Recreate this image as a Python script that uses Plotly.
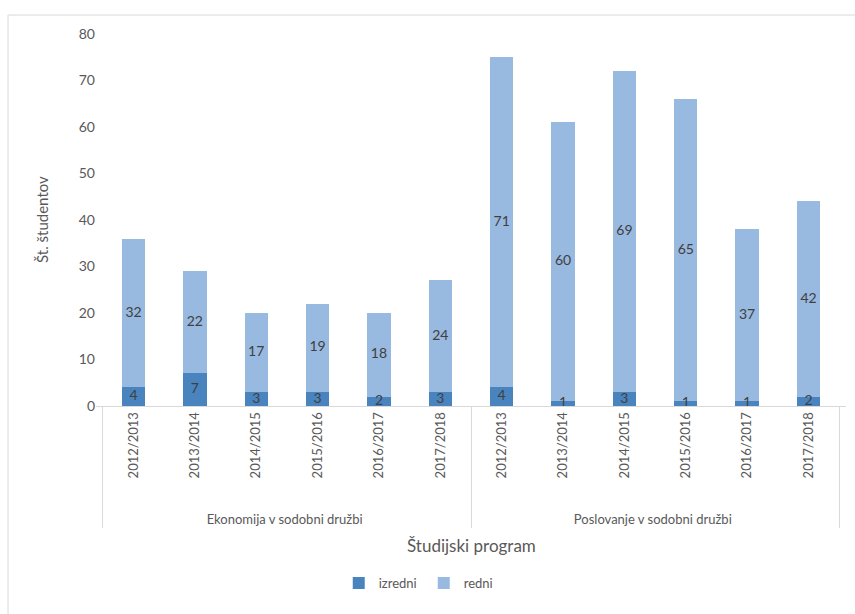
import plotly.graph_objects as go

programs = ["Ekonomija v sodobni družbi"] * 6 + ["Poslovanje v sodobni družbi"] * 6
years = ["2012/2013", "2013/2014", "2014/2015", "2015/2016", "2016/2017", "2017/2018"] * 2
izredni = [4, 7, 3, 3, 2, 3, 4, 1, 3, 1, 1, 2]
redni = [32, 22, 17, 19, 18, 24, 71, 60, 69, 65, 37, 42]

FONT = "Lato"
C_IZ = "#4A84BF"
C_RE = "#98B9E0"
TXT = "#404040"
GRAY = "#595959"

# leading no-break spaces leave room between the rotated year labels and the group labels
PAD = "\u00a0" * 6
year_labels = [PAD + y for y in years]

x = [programs, year_labels]
fig = go.Figure()
fig.add_trace(go.Bar(x=x, y=izredni, name="izredni", marker=dict(color=C_IZ, line=dict(width=0))))
fig.add_trace(go.Bar(x=x, y=redni, name="redni", marker=dict(color=C_RE, line=dict(width=0))))

# data labels at the middle of each segment
mid_iz = [v / 2 for v in izredni]
mid_re = [a + b / 2 for a, b in zip(izredni, redni)]
fig.add_trace(go.Scatter(x=x, y=mid_iz, mode="text", text=[str(v) for v in izredni],
                         textfont=dict(family=FONT, size=14, color=TXT), showlegend=False, hoverinfo="skip"))
fig.add_trace(go.Scatter(x=x, y=mid_re, mode="text", text=[str(v) for v in redni],
                         textfont=dict(family=FONT, size=14, color=TXT), showlegend=False, hoverinfo="skip"))

fig.update_layout(
    width=855, height=614,
    margin=dict(l=96, r=9, t=34, b=208, autoexpand=False),
    paper_bgcolor="white", plot_bgcolor="white",
    barmode="stack", bargap=0.62,
    font=dict(family=FONT, color=GRAY, size=13),
    showlegend=True,
    legend=dict(orientation="h", x=0.437, xanchor="center", y=-0.476, yanchor="middle",
                traceorder="normal", font=dict(family=FONT, size=13, color=GRAY),
                itemwidth=30, entrywidth=40),
    xaxis=dict(type="multicategory", tickangle=-90, showline=True, linecolor="#D9D9D9",
               linewidth=1, showgrid=False, ticks="", showdividers=True, automargin=False,
               dividercolor="#D9D9D9", dividerwidth=1,
               tickfont=dict(family=FONT, size=13, color=GRAY)),
    yaxis=dict(range=[0, 80], dtick=10, showgrid=False, zeroline=False, showline=False,
               ticks="", automargin=False, tickfont=dict(family=FONT, size=14, color=GRAY)),
    annotations=[
        dict(text="Študijski program", xref="paper", yref="paper", x=0.5, y=-0.374,
             showarrow=False, font=dict(family=FONT, size=17, color=GRAY), yanchor="middle"),
        dict(text="Št. študentov", xref="paper", yref="paper", x=-0.072, y=0.5, textangle=-90,
             showarrow=False, font=dict(family=FONT, size=15, color=GRAY), xanchor="center"),
    ],
    shapes=[dict(type="rect", xref="paper", yref="paper", x0=-0.1173, x1=1.2, y0=1.051, y1=-0.8,
                 line=dict(color="#D9D9D9", width=1), layer="below")],
)

fig.write_html("out.html", config={"displayModeBar": False},
               post_script="document.body.style.margin='0';")
